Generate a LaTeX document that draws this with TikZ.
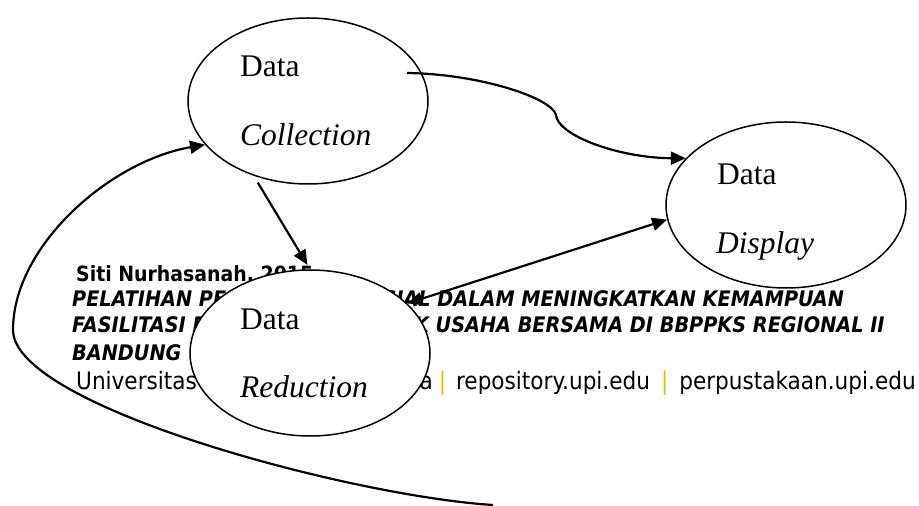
\documentclass[tikz,border=0pt]{standalone}
\usepackage{fontspec}
\setmainfont{Liberation Serif}
\newfontfamily\footsans[FakeStretch=0.9]{DejaVu Sans}
\usetikzlibrary{arrows.meta,shapes.geometric,calc}
\definecolor{upigold}{RGB}{242,183,0}
\begin{document}
\begin{tikzpicture}[x=1pt,y=1pt,
  stage/.style={ellipse, draw, line width=1.5pt, fill=white,
    minimum width=240pt, minimum height=166pt, inner sep=0pt},
  lbl/.style={anchor=base west, inner sep=0pt,
    font=\fontsize{31.5}{36}\selectfont},
  flow/.style={line width=2.2pt, -{Triangle[length=15pt,width=13pt]}},
  twoway/.style={line width=2.2pt, {Triangle[length=15pt,width=13pt]}-{Triangle[length=15pt,width=13pt]}},
  footreg/.style={anchor=base west, inner sep=0pt,
    font=\footsans\fontsize{24}{28}\selectfont},
  foothead/.style={anchor=base west, inner sep=0pt,
    font=\footsans\bfseries\fontsize{21}{26}\selectfont},
  foottitle/.style={anchor=base west, inner sep=0pt,
    font=\footsans\bfseries\itshape\fontsize{21.4}{26}\selectfont}
]
\useasboundingbox (0,0) rectangle (919,506);

% page footer lying under the diagram
\node[foothead] (author) at (76,224) {Siti Nurhasanah, 2015};
\node[foottitle] (title1) at (72,199) {PELATIHAN PENDAMPING SOSIAL DALAM MENINGKATKAN KEMAMPUAN};
\node[foottitle] (title2) at (72,173) {FASILITASI PEMANDU KELOMPOK USAHA BERSAMA DI BBPPKS REGIONAL II};
\node[foottitle] (title3) at (72,145) {BANDUNG};
\node[footreg] (univ) at (76,116) {Universitas Pendidikan Indonesia\hspace{6pt}{\color{upigold}|}\hspace{10pt}repository.upi.edu\hspace{11pt}{\color{upigold}|}\hspace{11pt}perpustakaan.upi.edu};

% the three stages
\node[stage] (coll) at (308,405) {};
\node[stage] (disp) at (786,301) {};
\node[stage] (red) at (310,153) {};

\node[lbl] (collA) at (240,429) {Data};
\node[lbl] (collB) at (240,360) {\itshape Collection};
\node[lbl] (dispA) at (717,321) {Data};
\node[lbl] (dispB) at (716,252) {\itshape Display};
\node[lbl] (redA) at (240,176) {Data};
\node[lbl] (redB) at (240,108) {\itshape Reduction};

% connectors
\coordinate (collout) at (407,433);
\draw[flow] (collout) .. controls (480,432) and (552,408) .. (556,391)
  .. controls (558,370) and (620,348) .. (disp.155);
\draw[flow, shorten <=8pt, shorten >=5pt] (coll.-126) -- (red.90);
\draw[twoway] (red.27) -- (disp.187);
\coordinate (loopstart) at (493,1);
\draw[flow] (loopstart) .. controls (350,10) and (13,100) .. (13,176)
  .. controls (13,260) and (110,345) .. (coll.203.6);
\end{tikzpicture}
\end{document}
